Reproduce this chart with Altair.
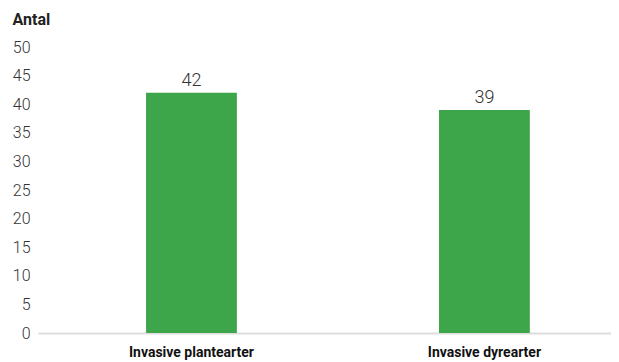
import altair as alt
import pandas as pd

categories = ["Invasive plantearter", "Invasive dyrearter"]
values = [42, 39]
y_ticks = [0, 5, 10, 15, 20, 25, 30, 35, 40, 45, 50]

df = pd.DataFrame({"kategori": categories, "antal": values})

x_enc = alt.X(
    "kategori:N",
    sort=categories,
    title=None,
    scale=alt.Scale(paddingInner=0.69, paddingOuter=0.323, align=0.571),
    axis=alt.Axis(
        labelAngle=0,
        labelFont="Roboto",
        labelFontWeight="bold",
        labelFontSize=14,
        labelColor="#111111",
        labelPadding=12,
        labelOverlap=False,
        ticks=False,
        domain=True,
        domainColor="#dddddd",
        domainWidth=2,
    ),
)
y_enc = alt.Y(
    "antal:Q",
    scale=alt.Scale(domain=[0, 50]),
    title="Antal",
    axis=alt.Axis(
        values=y_ticks,
        labelOverlap=False,
        grid=False,
        domain=False,
        ticks=False,
        labelFont="Roboto",
        labelFontSize=16,
        labelFontWeight=300,
        labelColor="#333333",
        labelPadding=8,
        titleAngle=0,
        titleAlign="left",
        titleBaseline="alphabetic",
        titleX=-26,
        titleY=-23,
        titleFont="Roboto",
        titleFontSize=16,
        titleFontWeight="bold",
        titleColor="#222222",
    ),
)

base = alt.Chart(df).encode(x=x_enc, y=y_enc)
bars = base.mark_bar(color="#3DA64A")
labels = base.mark_text(
    dy=-7, baseline="alphabetic", font="Roboto", fontSize=18, fontWeight=300, color="#333333"
).encode(text="antal:Q")

chart = (
    alt.layer(bars, labels)
    .properties(
        width=573,
        height=286,
        autosize=alt.AutoSizeParams(type="none"),
        padding={"left": 30, "top": 39, "right": 0, "bottom": 29},
    )
    .configure_view(stroke=None)
)

chart.save("out.html", embed_options={"renderer": "svg", "actions": False})
